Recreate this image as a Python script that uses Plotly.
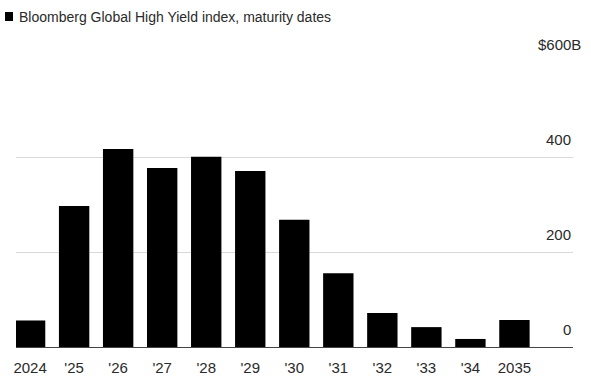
import plotly.graph_objects as go

categories = ["2024", "'25", "'26", "'27", "'28", "'29", "'30", "'31", "'32", "'33", "'34", "2035"]
values = [56, 298, 418, 378, 402, 372, 269, 156, 72, 42, 17, 57]
y_ticks = [0, 200, 400, 600]
y_tick_labels = ["0", "200", "400", "$600B"]
title_text = "Bloomberg Global High Yield index, maturity dates"

FONT = "Liberation Sans, Arial, sans-serif"
TXT = "#2a2a2a"
W, H = 591, 380
L, R, T, B = 16, 18, 62, 33
pw, ph = W - L - R, H - T - B

def px_x(p):
    return (p - L) / pw

def px_y(p):
    return 1 + (T - p) / ph

fig = go.Figure(go.Bar(
    x=list(range(len(categories))), y=values,
    marker=dict(color="#000000", line=dict(width=0)),
    width=0.69,
))

annotations = []
for v, lab in zip(y_ticks, y_tick_labels):
    annotations.append(dict(
        x=1, xref="paper", y=v, yref="y", text=lab, showarrow=False,
        xanchor="right", yanchor="middle", yshift=18,
        xshift=(10 if lab.endswith("B") else 0),
        font=dict(family=FONT, size=15, color=TXT),
    ))
annotations.append(dict(
    x=px_x(17), xref="paper", y=px_y(17), yref="paper", text=title_text,
    showarrow=False, xanchor="left", yanchor="middle",
    font=dict(family=FONT, size=14, color=TXT),
))

fig.update_layout(
    width=W, height=H,
    margin=dict(l=L, r=R, t=T, b=B, pad=0, autoexpand=False),
    paper_bgcolor="white", plot_bgcolor="white",
    showlegend=False,
    bargap=0.31,
    annotations=annotations,
    shapes=[dict(type="rect", xref="paper", yref="paper",
                 x0=px_x(5), x1=px_x(13), y0=px_y(21), y1=px_y(12),
                 fillcolor="#000000", line=dict(width=0))],
    xaxis=dict(
        range=[-0.32, 12.33],
        tickmode="array", tickvals=list(range(len(categories))), ticktext=categories,
        showgrid=False, zeroline=False, showline=False, ticks="",
        tickfont=dict(family=FONT, size=15, color=TXT),
        ticklabelstandoff=10, automargin=False,
        fixedrange=True,
    ),
    yaxis=dict(
        range=[0, 602], tickvals=y_ticks, showticklabels=False,
        showgrid=True, gridcolor="#d9d9d9", gridwidth=1,
        zeroline=True, zerolinecolor="#444444", zerolinewidth=1,
        showline=False, ticks="", fixedrange=True, automargin=False,
    ),
)

fig.write_html("out.html")
